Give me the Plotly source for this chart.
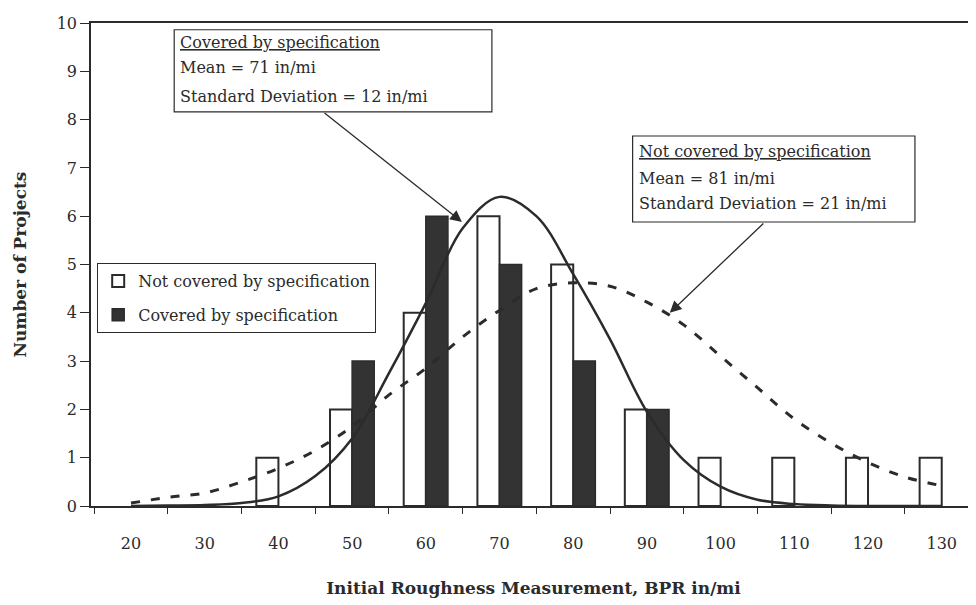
import plotly.graph_objects as go

# Histogram counts (None = no bar drawn)
roughness = [20, 30, 40, 50, 60, 70, 80, 90, 100, 110, 120, 130]
not_covered = [None, None, 1, 2, 4, 6, 5, 2, 1, 1, 1, 1]
covered = [None, None, None, 3, 6, 5, 3, 2, None, None, None, None]

# Fitted normal curves
curve_x = [20, 25, 30, 35, 40, 45, 50, 55, 60, 65, 70, 75,
           80, 85, 90, 95, 100, 105, 110, 115, 120, 125, 130]
covered_curve = [0.0, 0.01, 0.02, 0.06, 0.2, 0.62, 1.4, 2.75, 4.2, 5.75, 6.4, 6.0,
                 4.8, 3.45, 1.95, 0.95, 0.4, 0.13, 0.04, 0.01, 0.0, 0.0, 0.0]
not_covered_curve = [0.06, 0.18, 0.27, 0.5, 0.78, 1.15, 1.65, 2.3, 2.85, 3.5, 4.05, 4.5,
                     4.62, 4.55, 4.22, 3.75, 3.1, 2.45, 1.8, 1.3, 0.9, 0.6, 0.42]

SERIF = "DejaVu Serif"
INK = "#2b2b2b"

fig = go.Figure()

fig.add_trace(go.Bar(
    x=roughness, y=not_covered, name="Not covered by specification",
    width=3, offset=-3,
    marker=dict(color="white", line=dict(color=INK, width=2)),
    legendgroup="a",
))
fig.add_trace(go.Bar(
    x=roughness, y=covered, name="Covered by specification",
    width=3, offset=0,
    marker=dict(color="#333333", line=dict(color=INK, width=1.5)),
    legendgroup="b",
))
fig.add_trace(go.Scatter(
    x=curve_x, y=covered_curve, mode="lines", showlegend=False,
    line=dict(color=INK, width=2.5, shape="spline"),
))
fig.add_trace(go.Scatter(
    x=curve_x, y=not_covered_curve, mode="lines", showlegend=False,
    line=dict(color=INK, width=3, shape="spline", dash="9px,11px"),
))

# Text boxes
boxes = [
    (0.094, 0.816, 0.453, 0.986, 0.098, [0.959, 0.907, 0.847],
     ["<u>Covered by specification</u>", "Mean = 71 in/mi", "Standard Deviation = 12 in/mi"]),
    (0.612, 0.588, 0.931, 0.766, 0.617, [0.733, 0.679, 0.627],
     ["<u>Not covered by specification</u>", "Mean = 81 in/mi", "Standard Deviation = 21 in/mi"]),
]
for x0, y0, x1, y1, tx, tys, lines in boxes:
    fig.add_shape(type="rect", xref="paper", yref="paper", x0=x0, y0=y0, x1=x1, y1=y1,
                  line=dict(color=INK, width=1.2), fillcolor="white", layer="above")
    for ty, txt in zip(tys, lines):
        fig.add_annotation(xref="paper", yref="paper", x=tx, y=ty, text=txt,
                           showarrow=False, xanchor="left", yanchor="middle",
                           font=dict(family=SERIF, size=16, color=INK))

# Arrows pointing at the curves
for hx, hy, tx, ty in [(64.9, 5.88, 46.05, 8.16), (93.1, 4.0, 106.0, 5.88)]:
    fig.add_annotation(x=hx, y=hy, ax=tx, ay=ty, xref="x", yref="y", axref="x", ayref="y",
                       text="", showarrow=True, arrowhead=2, arrowsize=1.8,
                       arrowwidth=1.3, arrowcolor=INK)

# page body has an 8px margin, so the figure is sized 8px smaller
fig.update_layout(
    width=968, height=597,
    margin=dict(l=83, r=0, t=15, b=99, autoexpand=False),
    paper_bgcolor="white", plot_bgcolor="white",
    barmode="overlay",
    font=dict(family=SERIF, color=INK),
    legend=dict(
        x=0.007, y=0.503, xanchor="left", yanchor="top",
        bordercolor=INK, borderwidth=1, bgcolor="white",
        font=dict(family=SERIF, size=16, color=INK),
        traceorder="grouped", tracegroupgap=10,
    ),
)

fig.update_xaxes(
    range=[14.57, 134.65], automargin=False,
    tickmode="array", tickvals=roughness, ticktext=[str(v) for v in roughness],
    ticks="", ticklabelstandoff=22,
    tickfont=dict(family=SERIF, size=16, color=INK),
    showline=True, linecolor=INK, linewidth=1.5, mirror=True,
    showgrid=False, zeroline=False,
    minor=dict(ticks="outside", tick0=25, dtick=10, ticklen=6, tickcolor=INK, showgrid=False),
    title=dict(text="<b>Initial Roughness Measurement, BPR in/mi</b>",
               font=dict(family=SERIF, size=17, color=INK), standoff=30),
)
fig.update_yaxes(
    range=[0, 10], dtick=1, automargin=False,
    ticks="outside", ticklen=9, tickcolor=INK, tickwidth=1.2,
    tickfont=dict(family=SERIF, size=16, color=INK),
    showline=True, linecolor=INK, linewidth=1.5,
    showgrid=False, zeroline=False,
    title=dict(text="<b>Number of Projects</b>",
               font=dict(family=SERIF, size=17, color=INK), standoff=26),
)

fig.write_html("out.html")
